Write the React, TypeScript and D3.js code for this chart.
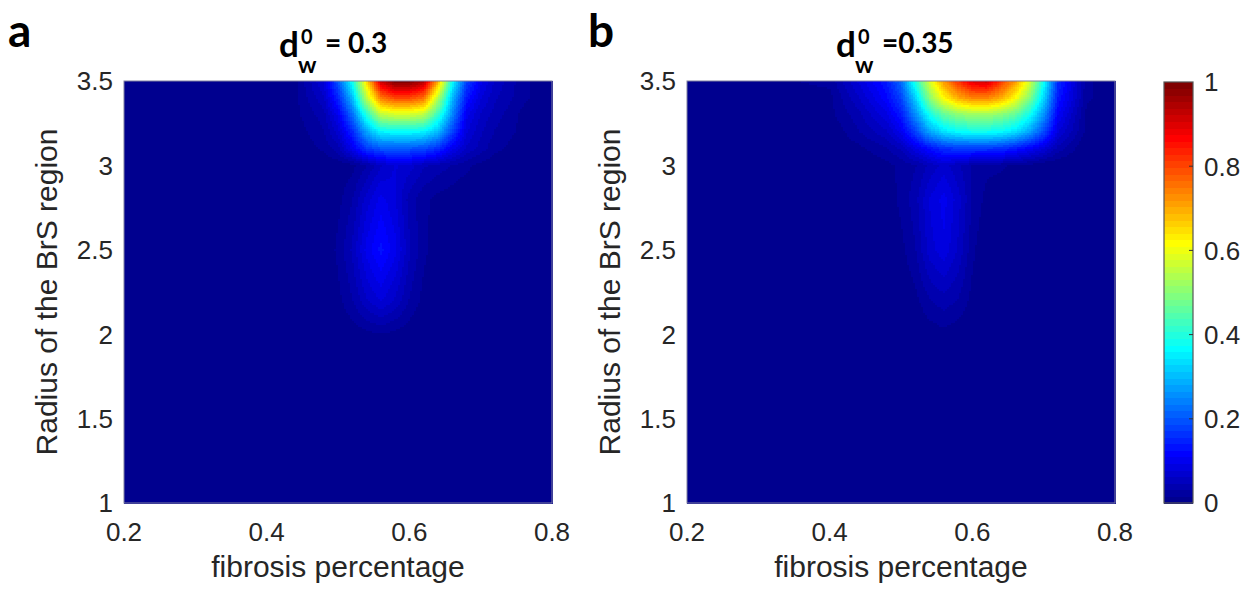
import React from 'react';
import * as d3 from 'd3';

// fibrosis percentage grid (columns) and radius grid (rows, bottom to top)
const xGrid = [0.2, 0.4, 0.44, 0.48, 0.5, 0.52, 0.54, 0.56, 0.58, 0.6, 0.62, 0.64, 0.66, 0.68, 0.7, 0.72, 0.76, 0.8];
const yGrid = [1, 2, 2.2, 2.5, 2.8, 3, 3.1, 3.2, 3.3, 3.4, 3.5];

// d_w^0 = 0.3
const valuesA = [
  [0, 0, 0, 0, 0, 0, 0, 0, 0, 0, 0, 0, 0, 0, 0, 0, 0, 0],
  [0, 0, 0, 0, 0, 0.005, 0.01, 0.015, 0.01, 0.005, 0, 0, 0, 0, 0, 0, 0, 0],
  [0, 0, 0, 0, 0.01, 0.03, 0.06, 0.08, 0.06, 0.03, 0.01, 0, 0, 0, 0, 0, 0, 0],
  [0, 0, 0, 0, 0.02, 0.05, 0.1, 0.13, 0.1, 0.05, 0.02, 0.005, 0, 0, 0, 0, 0, 0],
  [0, 0, 0, 0, 0.01, 0.03, 0.07, 0.1, 0.08, 0.04, 0.02, 0.01, 0.005, 0, 0, 0, 0, 0],
  [0, 0, 0, 0, 0.005, 0.01, 0.03, 0.06, 0.08, 0.07, 0.05, 0.04, 0.03, 0.02, 0.01, 0.005, 0, 0],
  [0, 0, 0, 0.02, 0.04, 0.1, 0.17, 0.2, 0.2, 0.2, 0.19, 0.16, 0.1, 0.06, 0.04, 0.02, 0.005, 0],
  [0, 0, 0.005, 0.03, 0.07, 0.15, 0.28, 0.36, 0.37, 0.37, 0.36, 0.3, 0.18, 0.08, 0.05, 0.03, 0.01, 0],
  [0, 0, 0.01, 0.04, 0.1, 0.22, 0.4, 0.55, 0.57, 0.57, 0.55, 0.42, 0.25, 0.1, 0.06, 0.04, 0.01, 0],
  [0, 0, 0.01, 0.06, 0.15, 0.3, 0.55, 0.75, 0.8, 0.8, 0.76, 0.55, 0.3, 0.14, 0.08, 0.05, 0.02, 0],
  [0, 0, 0.01, 0.08, 0.2, 0.38, 0.65, 0.92, 1.0, 1.0, 0.95, 0.7, 0.38, 0.18, 0.1, 0.06, 0.02, 0],
];

// d_w^0 = 0.35
const valuesB = [
  [0, 0, 0, 0, 0, 0, 0, 0, 0, 0, 0, 0, 0, 0, 0, 0, 0, 0],
  [0, 0, 0, 0, 0, 0, 0.005, 0.01, 0.005, 0, 0, 0, 0, 0, 0, 0, 0, 0],
  [0, 0, 0, 0, 0, 0.01, 0.03, 0.04, 0.03, 0.01, 0, 0, 0, 0, 0, 0, 0, 0],
  [0, 0, 0, 0, 0.01, 0.03, 0.07, 0.09, 0.06, 0.02, 0, 0, 0, 0, 0, 0, 0, 0],
  [0, 0, 0, 0.005, 0.02, 0.04, 0.08, 0.1, 0.07, 0.03, 0.01, 0, 0, 0, 0, 0, 0, 0],
  [0, 0, 0, 0.01, 0.02, 0.03, 0.05, 0.07, 0.05, 0.03, 0.02, 0.02, 0.01, 0.01, 0, 0, 0, 0],
  [0, 0, 0.01, 0.03, 0.05, 0.09, 0.13, 0.16, 0.17, 0.17, 0.17, 0.16, 0.14, 0.11, 0.08, 0.04, 0, 0],
  [0, 0, 0.03, 0.06, 0.1, 0.18, 0.28, 0.34, 0.37, 0.38, 0.38, 0.37, 0.34, 0.28, 0.19, 0.08, 0.01, 0],
  [0, 0.01, 0.04, 0.09, 0.14, 0.25, 0.38, 0.46, 0.5, 0.52, 0.52, 0.5, 0.46, 0.38, 0.26, 0.11, 0.01, 0],
  [0, 0.01, 0.06, 0.12, 0.18, 0.32, 0.5, 0.62, 0.7, 0.74, 0.74, 0.7, 0.62, 0.5, 0.33, 0.14, 0.02, 0],
  [0, 0.02, 0.08, 0.14, 0.22, 0.4, 0.58, 0.72, 0.82, 0.9, 0.92, 0.82, 0.72, 0.58, 0.38, 0.16, 0.02, 0],
];

const xTicks = [0.2, 0.4, 0.6, 0.8];
const yTicks = [1, 1.5, 2, 2.5, 3, 3.5];
const cTicks = [0, 0.2, 0.4, 0.6, 0.8, 1];

const tickFont = "'Liberation Sans', Arial, sans-serif";
const titleFont = "Lato, 'Open Sans', sans-serif";
const textColor = '#262626';

// MATLAB style jet(m)
function jetMap(m: number): string[] {
  const n = Math.ceil(m / 4);
  const u: number[] = [];
  for (let i = 1; i <= n; i++) u.push(i / n);
  for (let i = 0; i < n - 1; i++) u.push(1);
  for (let i = n; i >= 1; i--) u.push(i / n);
  const g0 = Math.ceil(n / 2) - (m % 4 === 1 ? 1 : 0);
  const J = Array.from({ length: m }, () => [0, 0, 0]);
  u.forEach((val, k) => {
    const g = g0 + k + 1;
    const r = g + n;
    const b = g - n;
    if (g >= 1 && g <= m) J[g - 1][1] = val;
    if (r >= 1 && r <= m) J[r - 1][0] = val;
    if (b >= 1 && b <= m) J[b - 1][2] = val;
  });
  return J.map(([r, g, b]) => d3.rgb(r * 255, g * 255, b * 255).formatHex());
}

const jet = jetMap(64);

function sample(vals: number[][], x: number, y: number) {
  const i = Math.max(0, Math.min(xGrid.length - 2, d3.bisectRight(xGrid, x) - 1));
  const j = Math.max(0, Math.min(yGrid.length - 2, d3.bisectRight(yGrid, y) - 1));
  const tx = Math.max(0, Math.min(1, (x - xGrid[i]) / (xGrid[i + 1] - xGrid[i])));
  const ty = Math.max(0, Math.min(1, (y - yGrid[j]) / (yGrid[j + 1] - yGrid[j])));
  const a = vals[j][i] * (1 - tx) + vals[j][i + 1] * tx;
  const b = vals[j + 1][i] * (1 - tx) + vals[j + 1][i + 1] * tx;
  return a * (1 - ty) + b * ty;
}

const colorIndex = (v: number) => Math.max(0, Math.min(63, Math.floor(v * 64)));

type Cell = { x: number; y: number; w: number; h: number; c: string };

function surfaceCells(vals: number[][], x: d3.ScaleLinear<number, number>, y: d3.ScaleLinear<number, number>) {
  const [x0, x1] = x.range();
  const [y1, y0] = y.range();
  const step = 2;
  const cells: Cell[] = [];
  for (let py = y0; py < y1; py += step) {
    const yv = y.invert(py + step / 2);
    let runStart = x0;
    let runIdx = -1;
    for (let px = x0; px < x1; px += step) {
      const idx = colorIndex(sample(vals, x.invert(px + step / 2), yv));
      if (idx !== runIdx) {
        if (runIdx >= 0) cells.push({ x: runStart, y: py, w: px - runStart, h: step, c: jet[runIdx] });
        runStart = px;
        runIdx = idx;
      }
    }
    cells.push({ x: runStart, y: py, w: x1 - runStart, h: Math.min(step, y1 - py), c: jet[runIdx] });
  }
  return cells;
}

function Panel({ left, right, vals, letter, letterX, titleX, titleVal }: any) {
  const top = 81;
  const bottom = 503;
  const x = d3.scaleLinear().domain([0.2, 0.8]).range([left, right]);
  const y = d3.scaleLinear().domain([1, 3.5]).range([bottom, top]);
  const cells = surfaceCells(vals, x, y);
  return (
    <g>
      <g shapeRendering="crispEdges">
        {cells.map((c, i) => (
          <rect key={i} x={c.x} y={c.y} width={c.w + 0.5} height={c.h + 0.5} fill={c.c} />
        ))}
      </g>
      <rect x={left} y={top} width={right - left} height={bottom - top} fill="none" stroke="#8080a0" strokeWidth={1} />
      {xTicks.map(t => (
        <text key={t} x={x(t)} y={541} textAnchor="middle" fontFamily={tickFont} fontSize={26} fill={textColor}>
          {t}
        </text>
      ))}
      {yTicks.map(t => (
        <text key={t} x={left - 11} y={y(t)} dy="0.36em" textAnchor="end" fontFamily={tickFont} fontSize={26} fill={textColor}>
          {t}
        </text>
      ))}
      <text x={(left + right) / 2} y={577} textAnchor="middle" fontFamily={tickFont} fontSize={30} fill={textColor}>
        fibrosis percentage
      </text>
      <text
        transform={`translate(${left - 67},${(top + bottom) / 2}) rotate(-90)`}
        textAnchor="middle"
        fontFamily={tickFont}
        fontSize={30}
        fill={textColor}
      >
        Radius of the BrS region
      </text>
      <text x={letterX} y={47} fontFamily={titleFont} fontWeight="bold" fontSize={46} fill="#000">
        {letter}
      </text>
      <text x={titleX} y={57} fontFamily={titleFont} fontWeight="bold" fill="#000" fontSize={35}>
        d
        <tspan x={titleX + 22} y={44} fontSize={20}>0</tspan>
        <tspan x={titleX + 19} y={73} fontSize={23}>w</tspan>
        <tspan x={titleX + 46} y={53} fontSize={28}>{titleVal}</tspan>
      </text>
    </g>
  );
}

function Colorbar() {
  const left = 1164;
  const right = 1193;
  const c = d3.scaleLinear().domain([0, 1]).range([503, 82]);
  const bands = d3.range(64);
  return (
    <g>
      <g shapeRendering="crispEdges">
        {bands.map(i => (
          <rect key={i} x={left} y={c((i + 1) / 64)} width={right - left} height={c(i / 64) - c((i + 1) / 64) + 0.5} fill={jet[i]} />
        ))}
      </g>
      <rect x={left} y={82} width={right - left} height={503 - 82} fill="none" stroke="#555" strokeWidth={1.2} />
      {cTicks.map(t => (
        <g key={t}>
          {t > 0 && t < 1 && <line x1={right - 4} x2={right} y1={c(t)} y2={c(t)} stroke="#333" strokeWidth={1} />}
          <text x={1204} y={c(t)} dy="0.36em" fontFamily={tickFont} fontSize={26} fill={textColor}>
            {t}
          </text>
        </g>
      ))}
    </g>
  );
}

export default function App() {
  return (
    <svg width={1251} height={590} style={{ position: 'absolute', left: 0, top: 0, background: '#fff' }}>
      <Panel left={124} right={552} vals={valuesA} letter="a" letterX={8} titleX={279} titleVal="= 0.3" />
      <Panel left={687} right={1115} vals={valuesB} letter="b" letterX={588} titleX={836} titleVal="=0.35" />
      <Colorbar />
    </svg>
  );
}
